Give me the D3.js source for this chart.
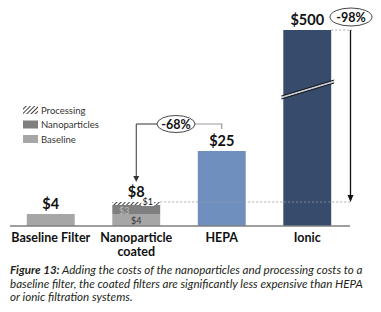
<!DOCTYPE html>
<html><head><meta charset="utf-8">
<script src="https://cdn.jsdelivr.net/npm/d3@7"></script>
<style>
body{margin:0;background:#fff;}
svg{display:block;font-family:Lato,"Open Sans",sans-serif;}
</style></head>
<body>
<svg id="c" width="381" height="312"></svg>
<script>
// ---- data ----
const categories = ["Baseline Filter", "Nanoparticle coated", "HEPA", "Ionic"];
const categoryLines = [["Baseline Filter"], ["Nanoparticle", "coated"], ["HEPA"], ["Ionic"]];
const baseline      = [4, 4, 0, 0];
const nanoparticles = [0, 3, 0, 0];
const processing    = [0, 1, 0, 0];
const solidValues   = [0, 0, 25, 500];
const totalLabels   = ["$4", "$8", "$25", "$500"];
const segmentLabels = ["$4", "$3", "$1"];
const legendLabels  = ["Processing", "Nanoparticles", "Baseline"];
const reductions    = ["-68%", "-98%"];
const captionBold   = "Figure 13:";
const captionLines  = [" Adding the costs of the nanoparticles and processing costs to a",
  "baseline filter, the coated filters are significantly less expensive than HEPA",
  "or ionic filtration systems."];

const svg = d3.select("#c");
const defs = svg.append("defs");
const hatch = defs.append("pattern").attr("id","hatch").attr("patternUnits","userSpaceOnUse")
  .attr("width",3).attr("height",3).attr("patternTransform","rotate(45)");
hatch.append("rect").attr("width",3).attr("height",3).attr("fill","#fff");
hatch.append("line").attr("x1",0).attr("y1",0).attr("x2",0).attr("y2",3).attr("stroke","#111").attr("stroke-width",1.6);

const x = d3.scaleBand().domain(categories).range([8,350]).paddingInner(0.44).paddingOuter(0.22);
// broken value axis
const y = d3.scaleLinear().domain([0, 60, 500]).range([226, 46, 30]);

const colBase = "#a6a6a6", colNano = "#7f7f7f", colHepa = "#6f8fbf", colIonic = "#374b6c";
const stacks = categories.map((c,i)=>{
  const segs = [];
  let acc = 0;
  [[baseline[i],colBase],[nanoparticles[i],colNano],[processing[i],"url(#hatch)"]].forEach(([v,f])=>{
    if(v>0){ segs.push({c, y0:acc, y1:acc+v, fill:f}); acc+=v; }
  });
  if(solidValues[i]>0) segs.push({c, y0:0, y1:solidValues[i], fill: i===2?colHepa:colIonic});
  return segs;
}).flat();

svg.append("g").selectAll("rect").data(stacks).join("rect")
  .attr("x",d=>x(d.c)).attr("width",x.bandwidth())
  .attr("y",d=>y(d.y1)).attr("height",d=>y(d.y0)-y(d.y1))
  .attr("fill",d=>d.fill);

// axis break on ionic bar
const ix = x("Ionic"), bw = x.bandwidth();
const brk = svg.append("g");
brk.append("polygon").attr("points",`${ix-2},${96.5} ${ix+bw+3},${80.5} ${ix+bw+3},${82.5} ${ix-2},${98.5}`).attr("fill","#c8ccd4");
brk.append("line").attr("x1",ix-2).attr("y1",96).attr("x2",ix+bw+3).attr("y2",80).attr("stroke","#1a1a1a").attr("stroke-width",1);
brk.append("line").attr("x1",ix-2).attr("y1",99).attr("x2",ix+bw+3).attr("y2",83).attr("stroke","#1a1a1a").attr("stroke-width",1);

// axis baseline
svg.append("line").attr("x1",10).attr("x2",350).attr("y1",y(0)).attr("y2",y(0)).attr("stroke","#7f7f7f").attr("stroke-width",1.5);

// dotted guides
const nc = "Nanoparticle coated";
svg.append("line").attr("x1",x(nc)+bw).attr("x2",352).attr("y1",y(8)).attr("y2",y(8))
  .attr("stroke","#999").attr("stroke-width",0.8).attr("stroke-dasharray","2,2");
svg.append("line").attr("x1",ix+bw).attr("x2",352).attr("y1",y(500)).attr("y2",y(500))
  .attr("stroke","#999").attr("stroke-width",0.8).attr("stroke-dasharray","2,2");

// totals
const totals = categories.map((c,i)=>baseline[i]+nanoparticles[i]+processing[i]+solidValues[i]);
svg.append("g").selectAll("text").data(categories).join("text")
  .attr("x",d=>x(d)+bw/2).attr("y",(d,i)=>y(totals[i])-5)
  .attr("text-anchor","middle").attr("font-weight","bold").attr("font-size",14.5).attr("fill","#111")
  .text((d,i)=>totalLabels[i]);

// segment labels for coated bar
const ncx = x(nc);
svg.append("text").attr("x",ncx+bw/2).attr("y",(y(0)+y(4))/2+3.5).attr("text-anchor","middle")
  .attr("font-size",9).attr("fill","#333").text(segmentLabels[0]);
svg.append("text").attr("x",ncx+12).attr("y",y(4)-0.5).attr("text-anchor","middle")
  .attr("font-size",9).attr("fill","#bbb").text(segmentLabels[1]);
svg.append("rect").attr("x",ncx+29).attr("y",y(8)-5).attr("width",13).attr("height",9).attr("fill","#fff");
svg.append("text").attr("x",ncx+35.5).attr("y",y(8)+2.5).attr("text-anchor","middle")
  .attr("font-size",9).attr("fill","#111").text(segmentLabels[2]);

// category labels
categories.forEach((c,i)=>{
  categoryLines[i].forEach((p,j)=>{
    svg.append("text").attr("x",x(c)+bw/2).attr("y",242+j*13.5).attr("text-anchor","middle")
      .attr("font-weight","bold").attr("font-size",12.5).attr("fill","#111").text(p);
  });
});

// legend
const leg = svg.append("g");
const legFills = ["url(#hatch)", colNano, colBase];
legendLabels.forEach((l,i)=>{
  const yy = 106 + i*14.5;
  leg.append("rect").attr("x",23).attr("y",yy).attr("width",15).attr("height",8).attr("fill",legFills[i]);
  leg.append("text").attr("x",41).attr("y",yy+7.5).attr("font-size",9.5).attr("fill","#333").text(l);
});

// -68% annotation
const a1 = svg.append("g");
const hx = x("HEPA")+bw/2, nx = ncx+bw/2;
a1.append("path").attr("d",`M${nx},178 V124 H157`).attr("fill","none").attr("stroke","#333").attr("stroke-width",1);
a1.append("path").attr("d",`M${nx-3},176 L${nx+3},176 L${nx},182 Z`).attr("fill","#333");
a1.append("path").attr("d",`M195,124 H${hx} V129`).attr("fill","none").attr("stroke","#999").attr("stroke-width",1.2);
a1.append("ellipse").attr("cx",176).attr("cy",124).attr("rx",19).attr("ry",8.5).attr("fill","#fff").attr("stroke","#333").attr("stroke-width",0.9);
a1.append("text").attr("x",176).attr("y",128.5).attr("text-anchor","middle").attr("font-weight","bold").attr("font-size",12.5).attr("fill","#111").text(reductions[0]);

// -98% annotation
const a2 = svg.append("g");
a2.append("line").attr("x1",350.5).attr("x2",350.5).attr("y1",y(500)).attr("y2",y(8)-6).attr("stroke","#111").attr("stroke-width",1.3);
a2.append("path").attr("d",`M347.5,${y(8)-7} L353.5,${y(8)-7} L350.5,${y(8)} Z`).attr("fill","#111");
a2.append("ellipse").attr("cx",351).attr("cy",17).attr("rx",21).attr("ry",9).attr("fill","#fff").attr("stroke","#333").attr("stroke-width",0.9);
a2.append("text").attr("x",351).attr("y",21.5).attr("text-anchor","middle").attr("font-weight","bold").attr("font-size",12.5).attr("fill","#111").text(reductions[1]);

// caption
const capSize = 11.6;
const cap = svg.append("text").attr("x",10).attr("y",274).attr("font-style","italic").attr("font-size",capSize).attr("fill","#231f20");
cap.append("tspan").attr("font-weight","bold").text(captionBold);
cap.append("tspan").text(captionLines[0]);
captionLines.slice(1).forEach((l,i)=>{
  svg.append("text").attr("x",10).attr("y",287.5+i*13.5).attr("font-style","italic").attr("font-size",capSize).attr("fill","#231f20").text(l);
});
</script>
</body></html>
